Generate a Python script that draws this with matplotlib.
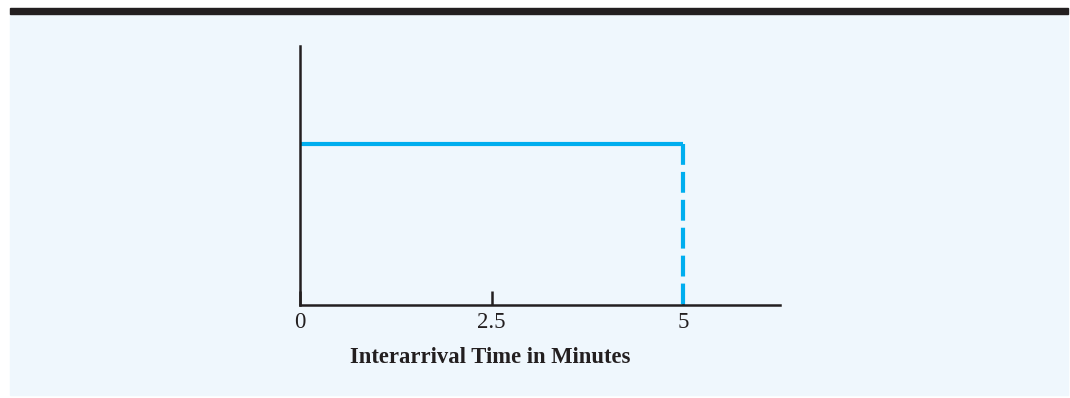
import matplotlib.pyplot as plt
from matplotlib.patches import Rectangle

# uniform interarrival time density on [0, 5]
x_lo = 0
x_hi = 5
density = 1 / (x_hi - x_lo)
tick_vals = [0, 2.5, 5]
tick_labels = ['0', '2.5', '5']

bg = '#eff7fd'
ink = '#231f20'
cyan = '#00aeef'

W, H = 1070, 398
fig = plt.figure(figsize=(W / 100, H / 100), dpi=100)
fig.patch.set_facecolor('white')

# light panel and dark rule on top
fig.patches.append(Rectangle((10 / W, 3 / H), 1058 / W, (H - 17) / H,
                             transform=fig.transFigure, color=bg, zorder=-2))
fig.patches.append(Rectangle((10 / W, (H - 14) / H), 1058 / W, 6 / H,
                             transform=fig.transFigure, color=ink, zorder=-1))

ax = fig.add_axes([300 / W, 93 / H, 480 / W, 259 / H])
ax.set_zorder(2)
ax.patch.set_alpha(0)

ax.plot([x_lo, x_hi], [density, density], color=cyan, lw=3, solid_capstyle='butt')
ax.plot([x_hi, x_hi], [density, 0], color=cyan, lw=3, dashes=(5, 1.7))

ax.set_xlim(x_lo, 480 / 76.6)
ax.set_ylim(0, density / 0.62)

for s in ['top', 'right']:
    ax.spines[s].set_visible(False)
for s in ['left', 'bottom']:
    ax.spines[s].set_color(ink)
    ax.spines[s].set_linewidth(1.8)

ax.set_yticks([])
ax.set_xticks(tick_vals)
ax.set_xticklabels(tick_labels, family='Liberation Serif', fontsize=16.5, color=ink)
ax.tick_params(axis='x', direction='in', length=10, width=1.8, color=ink, pad=5)
ax.set_xlabel('Interarrival Time in Minutes', family='Liberation Serif',
              fontsize=16.3, fontweight='bold', color=ink)
ax.xaxis.set_label_coords(0.397, -0.203)
ax.xaxis.label.set_va('center')

fig.savefig('out.png', dpi=100, facecolor=fig.get_facecolor())
